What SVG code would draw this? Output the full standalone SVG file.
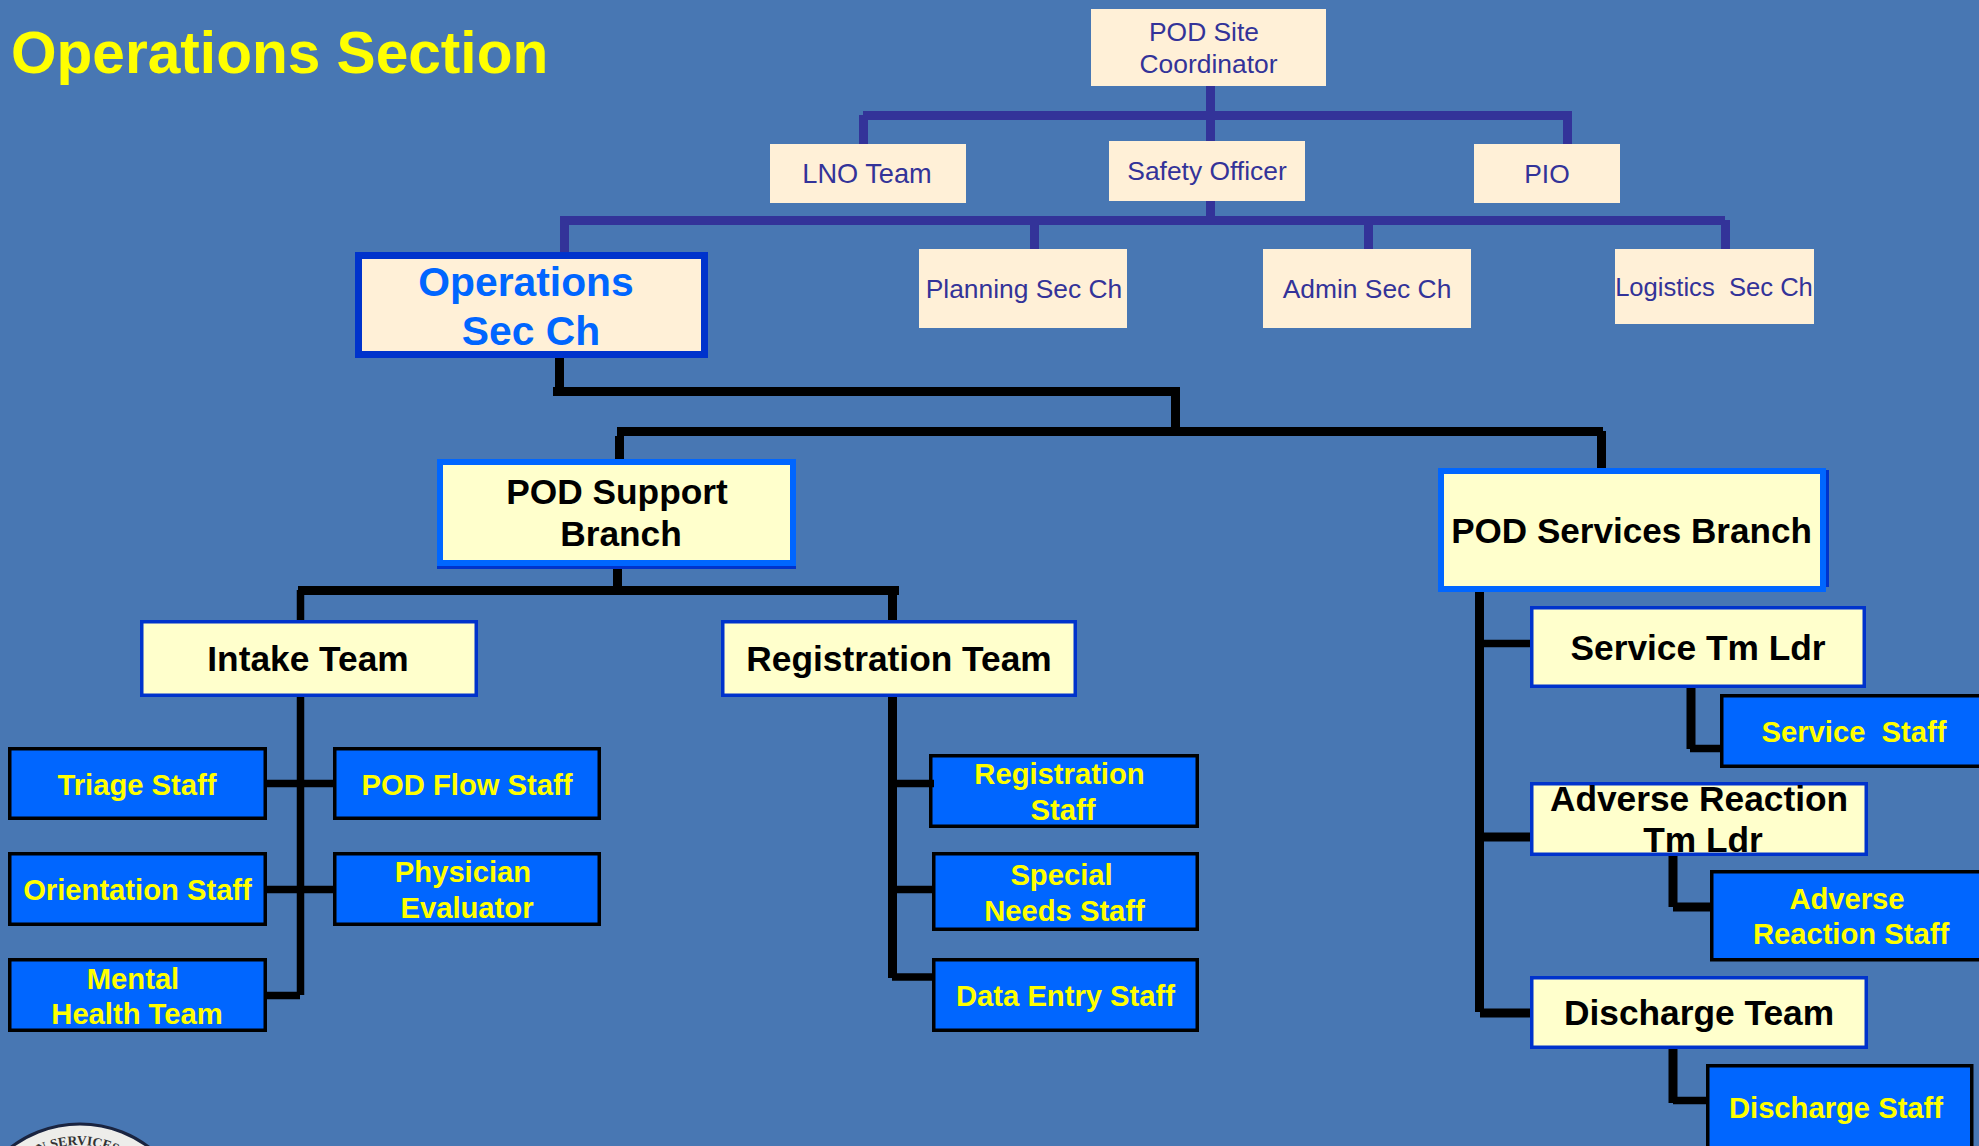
<svg xmlns="http://www.w3.org/2000/svg" width="1979" height="1146" viewBox="0 0 1979 1146">
<style>
text{font-family:"Liberation Sans",Arial,sans-serif;text-anchor:middle;white-space:pre}
.title{font-size:58.6px;font-weight:700;fill:#ffff00;text-anchor:start}
.cream{fill:#fff0d7}
.n{font-size:26.4px;fill:#333399}
.ops{fill:#fff0d7;stroke:#0033cc;stroke-width:7}
.opst{font-size:40.8px;font-weight:700;fill:#0066ff}
.br{fill:#ffffcc;stroke:#0066ff;stroke-width:6}
.shadow{fill:#0033cc}
.tm{fill:#ffffcc;stroke:#0033cc;stroke-width:3.5}
.b{font-size:35.3px;font-weight:700;fill:#000}
.st{fill:#0066ff;stroke:#000;stroke-width:3.5}
.y{font-size:29.2px;font-weight:700;fill:#ffff00}
.navy{stroke:#333399;stroke-width:9;fill:none}
.blk{stroke:#000;stroke-width:9;fill:none}
.thin{stroke:#000;stroke-width:7.5;fill:none}
.seal{fill:#ededea;stroke:#1a2440;stroke-width:3}
.sealt{font-family:"Liberation Serif",serif;font-size:13.5px;font-weight:700;fill:#333}
</style>
<defs><path id="sealarc" d="M-15 1238A93 93 0 0 1 171 1238"/></defs>
<rect width="1979" height="1146" fill="#4877b3"/>
<text class="title" x="11" y="73">Operations Section</text>
<g id="seal"><circle class="seal" cx="80" cy="1238" r="114"/><text class="sealt"><textPath href="#sealarc" startOffset="50%">N SERVICES</textPath></text></g>

<g id="pod-site-coordinator"><rect class="cream" x="1091" y="9" width="235" height="77"/><text class="n" x="1204" y="41">POD Site</text><text class="n" x="1208.5" y="73">Coordinator</text></g>
<g id="lno-team"><rect class="cream" x="770" y="144" width="196" height="59"/><text class="n" x="867" y="183" style="font-size:27.2px">LNO Team</text></g>
<g id="safety-officer"><rect class="cream" x="1109" y="141" width="196" height="60"/><text class="n" x="1207" y="180">Safety Officer</text></g>
<g id="pio"><rect class="cream" x="1474" y="144" width="146" height="59"/><text class="n" x="1547" y="183">PIO</text></g>
<g id="operations-sec-ch"><rect class="ops" x="358.500" y="255.500" width="346" height="99"/><text class="opst" x="526" y="296">Operations</text><text class="opst" x="531" y="345">Sec Ch</text></g>
<g id="planning-sec-ch"><rect class="cream" x="919" y="249" width="208" height="79"/><text class="n" x="1024" y="298">Planning Sec Ch</text></g>
<g id="admin-sec-ch"><rect class="cream" x="1263" y="249" width="208" height="79"/><text class="n" x="1367" y="298">Admin Sec Ch</text></g>
<g id="logistics-sec-ch"><rect class="cream" x="1615" y="249" width="199" height="75"/><text class="n" x="1714" y="296" style="font-size:25.6px">Logistics  Sec Ch</text></g>

<g id="pod-support-branch"><rect class="shadow" x="437" y="560" width="359" height="9"/><rect class="br" x="440" y="462" width="353" height="101"/><text class="b" x="617" y="504">POD Support</text><text class="b" x="621" y="546">Branch</text></g>
<g id="pod-services-branch"><rect class="shadow" x="1824" y="470" width="5" height="117"/><rect class="br" x="1441" y="471" width="382" height="118"/><text class="b" x="1631.500" y="543" style="font-size:35.1px">POD Services Branch</text></g>

<g id="intake-team"><rect class="tm" x="141.750" y="621.750" width="334.500" height="73.500"/><text class="b" x="308" y="671">Intake Team</text></g>
<g id="registration-team"><rect class="tm" x="722.750" y="621.750" width="352.500" height="73.500"/><text class="b" x="899" y="671">Registration Team</text></g>
<g id="triage-staff"><rect class="st" x="9.750" y="748.750" width="255.500" height="69.500"/><text class="y" x="137" y="795">Triage Staff</text></g>
<g id="pod-flow-staff"><rect class="st" x="334.750" y="748.750" width="264.500" height="69.500"/><text class="y" x="467" y="795">POD Flow Staff</text></g>
<g id="orientation-staff"><rect class="st" x="9.750" y="853.750" width="255.500" height="70.500"/><text class="y" x="137.500" y="900">Orientation Staff</text></g>
<g id="physician-evaluator"><rect class="st" x="334.750" y="853.750" width="264.500" height="70.500"/><text class="y" x="463" y="882">Physician</text><text class="y" x="467" y="918">Evaluator</text></g>
<g id="mental-health-team"><rect class="st" x="9.750" y="959.750" width="255.500" height="70.500"/><text class="y" x="133" y="989">Mental</text><text class="y" x="137" y="1024">Health Team</text></g>
<g id="registration-staff"><rect class="st" x="930.750" y="755.750" width="266.500" height="70.500"/><text class="y" x="1059.500" y="784">Registration</text><text class="y" x="1063" y="820">Staff</text></g>
<g id="special-needs-staff"><rect class="st" x="933.750" y="853.750" width="263.500" height="75.500"/><text class="y" x="1061.500" y="885">Special</text><text class="y" x="1064.500" y="921">Needs Staff</text></g>
<g id="data-entry-staff"><rect class="st" x="933.750" y="959.750" width="263.500" height="70.500"/><text class="y" x="1065.500" y="1006">Data Entry Staff</text></g>

<g id="service-tm-ldr"><rect class="tm" x="1531.750" y="607.750" width="332.500" height="78.500"/><text class="b" x="1698" y="660">Service Tm Ldr</text></g>
<g id="service-staff"><rect class="st" x="1721.750" y="695.750" width="280" height="70.500"/><text class="y" x="1854" y="742">Service  Staff</text></g>
<g id="adverse-reaction-tm-ldr"><rect class="tm" x="1531.750" y="783.750" width="334.500" height="70.500"/><text class="b" x="1699" y="811">Adverse Reaction</text><text class="b" x="1703" y="852">Tm Ldr</text></g>
<g id="adverse-reaction-staff"><rect class="st" x="1711.750" y="871.750" width="290" height="88"/><text class="y" x="1847" y="909">Adverse</text><text class="y" x="1851" y="944">Reaction Staff</text></g>
<g id="discharge-team"><rect class="tm" x="1531.750" y="977.750" width="334.500" height="69.500"/><text class="b" x="1699" y="1025">Discharge Team</text></g>
<g id="discharge-staff"><rect class="st" x="1707.750" y="1065.750" width="264" height="100"/><text class="y" x="1836" y="1118">Discharge Staff</text></g>

<g id="connectors">
<line class="navy" x1="1210.500" y1="86" x2="1210.500" y2="141"/>
<line class="navy" x1="863" y1="115.500" x2="1572" y2="115.500"/>
<line class="navy" x1="863.500" y1="115" x2="863.500" y2="144"/>
<line class="navy" x1="1567.500" y1="115" x2="1567.500" y2="144"/>
<line class="navy" x1="1210.500" y1="201" x2="1210.500" y2="217"/>
<line class="navy" x1="560" y1="220.500" x2="1725" y2="220.500"/>
<line class="navy" x1="564.500" y1="220" x2="564.500" y2="252"/>
<line class="navy" x1="1034.500" y1="224" x2="1034.500" y2="249"/>
<line class="navy" x1="1368.500" y1="224" x2="1368.500" y2="249"/>
<line class="navy" x1="1725.500" y1="220" x2="1725.500" y2="249"/>
<line class="blk" x1="559.500" y1="358" x2="559.500" y2="391"/>
<line class="blk" x1="553" y1="391.500" x2="1178" y2="391.500"/>
<line class="blk" x1="1175.500" y1="387" x2="1175.500" y2="432"/>
<line class="blk" x1="617" y1="431.500" x2="1603" y2="431.500"/>
<line class="blk" x1="619.500" y1="436" x2="619.500" y2="459"/>
<line class="blk" x1="1601.500" y1="431" x2="1601.500" y2="468"/>
<line class="blk" x1="617.500" y1="569" x2="617.500" y2="590"/>
<line class="blk" x1="298" y1="590.500" x2="899" y2="590.500"/>
<line class="thin" x1="300.500" y1="590" x2="300.500" y2="620"/>
<line class="blk" x1="892.500" y1="590" x2="892.500" y2="620"/>
<line class="thin" x1="300.500" y1="697" x2="300.500" y2="995"/>
<line class="thin" x1="267" y1="783.500" x2="334" y2="783.500"/>
<line class="thin" x1="267" y1="889.500" x2="334" y2="889.500"/>
<line class="thin" x1="267" y1="995.500" x2="300" y2="995.500"/>
<line class="blk" x1="892.500" y1="697" x2="892.500" y2="978"/>
<line class="thin" x1="892" y1="783.500" x2="934" y2="783.500"/>
<line class="thin" x1="892" y1="889.500" x2="933" y2="889.500"/>
<line class="thin" x1="892" y1="977" x2="933" y2="977"/>
<line class="blk" x1="1479.500" y1="592" x2="1479.500" y2="1012"/>
<line class="thin" x1="1484" y1="643.500" x2="1530" y2="643.500"/>
<line class="blk" x1="1484" y1="837" x2="1530" y2="837"/>
<line class="blk" x1="1480" y1="1013" x2="1530" y2="1013"/>
<line class="blk" x1="1691" y1="688" x2="1691" y2="749"/>
<line class="thin" x1="1690" y1="748.500" x2="1720" y2="748.500"/>
<line class="blk" x1="1673" y1="856" x2="1673" y2="907"/>
<line class="blk" x1="1673" y1="907" x2="1710" y2="907"/>
<line class="blk" x1="1673" y1="1049" x2="1673" y2="1103"/>
<line class="thin" x1="1673" y1="1100.500" x2="1706" y2="1100.500"/>
</g>
</svg>
